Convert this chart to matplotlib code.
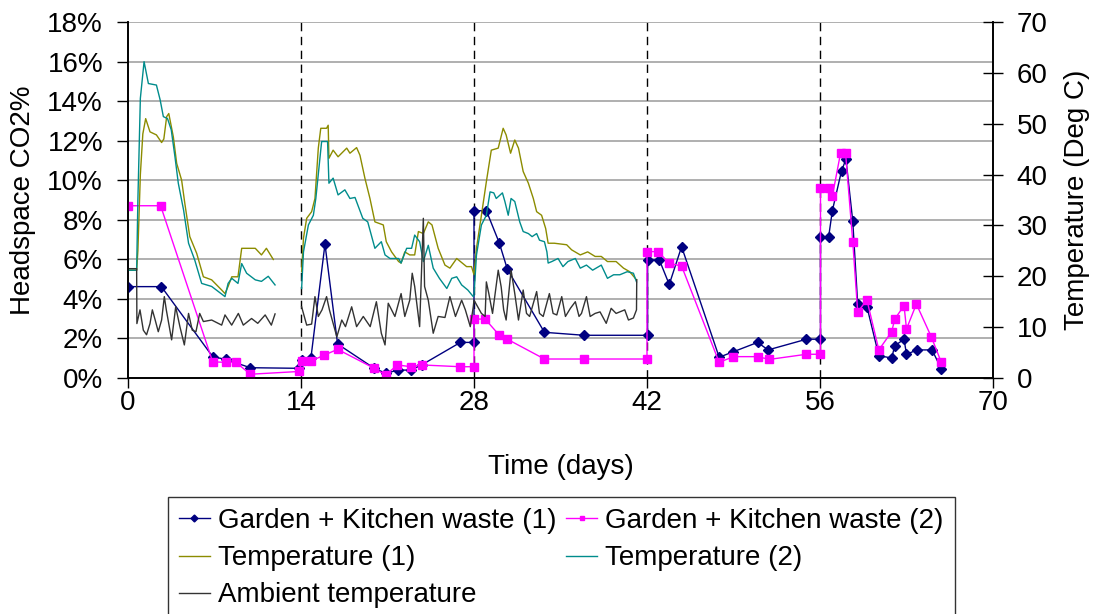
import numpy as np
import matplotlib
matplotlib.use("Agg")
import matplotlib.pyplot as plt
from matplotlib.lines import Line2D
from matplotlib.ticker import FuncFormatter, MultipleLocator

plt.rcParams['font.family'] = ['Liberation Sans', 'DejaVu Sans']

# CO2 in headspace (%)
gk1_day = [0, 2.7, 6.85, 7.9, 9.9, 13.8, 14.05, 14.8, 15.94, 16.96, 19.93, 20.85, 21.87, 22.9, 23.76,
           26.9, 28.0, 28.0, 29.0, 30.04, 30.7, 33.7, 36.9, 42.05, 42.05, 43.0, 43.8, 44.8, 47.84,
           49.0, 50.95, 51.8, 54.9, 56.04, 56.04, 56.7, 57.0, 57.74, 58.1, 58.65, 59.05, 59.8,
           60.76, 61.8, 62.05, 62.8, 63.0, 63.86, 65.07, 65.83]
gk1_co2 = [4.62, 4.62, 1.08, 0.94, 0.52, 0.49, 0.92, 1.0, 6.77, 1.72, 0.49, 0.24, 0.40, 0.40, 0.66,
           1.80, 1.80, 8.46, 8.46, 6.84, 5.50, 2.31, 2.16, 2.16, 5.97, 5.97, 4.73, 6.64, 1.05,
           1.33, 1.80, 1.42, 1.96, 1.96, 7.14, 7.14, 8.46, 10.47, 11.06, 7.94, 3.74, 3.60,
           1.13, 1.01, 1.63, 1.96, 1.20, 1.42, 1.42, 0.44]

gk2_day = [0, 2.64, 6.85, 7.9, 8.7, 9.9, 13.85, 14.05, 14.8, 15.9, 16.96, 19.93, 20.85, 21.8, 22.9,
           23.76, 26.9, 28.0, 28.0, 28.9, 30.04, 30.7, 33.7, 36.9, 42.0, 42.0, 42.9, 43.8, 44.8,
           47.84, 49.0, 50.95, 51.9, 54.9, 56.04, 56.04, 56.7, 57.0, 57.66, 58.07, 58.65, 59.05,
           59.8, 60.76, 61.8, 62.05, 62.8, 63.0, 63.8, 65.0, 65.8]
gk2_co2 = [8.71, 8.71, 0.82, 0.79, 0.81, 0.19, 0.33, 0.84, 0.86, 1.16, 1.45, 0.49, 0.15, 0.66, 0.57,
           0.66, 0.57, 0.57, 2.98, 2.98, 2.17, 1.96, 0.96, 0.96, 0.96, 6.39, 6.39, 5.80, 5.66,
           0.79, 1.08, 1.08, 0.94, 1.20, 1.20, 9.59, 9.59, 9.20, 11.36, 11.36, 6.89, 3.35,
           3.94, 1.42, 2.34, 2.98, 3.66, 2.48, 3.74, 2.09, 0.82]

# Temperatures (deg C); nan marks the logging gap
t1_day = [0, 0.7, 0.8, 1.0, 1.2, 1.43, 1.78, 2.3, 2.72, 2.9, 3.13, 3.3, 3.67, 3.94, 4.34, 4.6, 5.0,
          5.56, 6.1, 6.77, 7.58, 7.85, 8.1, 8.4, 8.9, 9.2, 9.7, 10.3, 10.8, 11.2, 11.76, 12.5,
          14.05, 14.2, 14.46, 14.86, 15.13, 15.4, 15.6, 16.07, 16.2, 16.26, 16.6, 17.0, 17.7,
          17.96, 18.5, 18.77, 19.17, 19.58, 19.98, 20.66, 20.9, 21.33, 21.9, 22.1, 22.4, 22.8,
          23.2, 23.5, 23.9, 24.3, 24.6, 25.1, 25.65, 26.05, 26.6, 26.9, 27.4, 27.8, 28.0,
          28.2, 28.6, 29.0, 29.4, 29.96, 30.36, 30.6, 30.96, 31.3, 31.6, 31.98, 32.4, 32.8,
          33.07, 33.47, 33.8, 34.0, 34.5, 35.5, 35.9, 36.6, 37.2, 37.8, 38.3, 38.8, 39.5,
          40.1, 40.6, 41.15]
t1_temp = [21.2, 21.2, 25, 40, 48, 51, 48.4, 47.8, 46.3, 47, 51.4, 52, 47.4, 42.2, 38.9, 34.3, 27.8,
           24.5, 19.9, 19.3, 17.3, 16.6, 18, 19.9, 19.9, 25.5, 25.5, 25.5, 24.2, 25.5, 23.3, np.nan,
           20.9, 27.5, 31.4, 32.7, 35.3, 45.2, 49.1, 49.1, 49.7, 43.2, 44.8, 43.5, 45.2,
           44.2, 45.3, 43.8, 39.3, 35.3, 30.7, 30.1, 26.8, 24.8, 22.9, 22.6, 24.8, 24.2,
           24.2, 28.8, 28.4, 30.7, 30.1, 25.5, 22.2, 21.6, 23.5, 22.9, 21.9, 21.9, 20.3,
           25.5, 32, 38.6, 44.8, 45.2, 49.1, 47.8, 44.2, 46.8, 45.2, 40.6, 38.3, 35.3,
           32.7, 32, 29.4, 26.5, 26.5, 26.2, 25.2, 24.2, 24.8, 23.9, 23.9, 22.9, 22.9,
           21.6, 20.9, 19.3]

t2_day = [0, 0.7, 0.8, 1.0, 1.3, 1.65, 2.3, 2.6, 2.86, 3.2, 3.5, 3.8, 4.07, 4.5, 4.9, 5.4, 5.96,
          6.77, 7.85, 8.1, 8.4, 8.9, 9.2, 9.6, 10.3, 10.8, 11.35, 11.9, 12.5,
          14.05, 14.2, 14.6, 15.0, 15.2, 15.67, 16.15, 16.26, 16.6, 17.0, 17.55, 17.96, 18.37,
          18.6, 19.0, 19.4, 19.98, 20.5, 20.8, 21.2, 21.9, 22.1, 22.55, 22.95, 23.2, 23.6,
          23.9, 24.3, 24.7, 25.2, 25.8, 26.2, 26.6, 27.0, 27.5, 27.94,
          28.0, 28.2, 28.6, 29.0, 29.3, 29.6, 29.8, 30.3, 30.5, 30.77, 31.0, 31.3, 31.7,
          31.98, 32.4, 32.7, 33.07, 33.3, 33.7, 33.9, 34.0, 34.3, 34.8, 35.2, 35.6, 36.2,
          36.6, 37.1, 37.6, 38.3, 38.8, 39.3, 39.8, 40.4, 40.9, 41.15]
t2_temp = [21.2, 21.2, 35, 55, 62.2, 57.9, 57.6, 54.7, 51.4, 51, 48.8, 43.5, 38.3, 33, 26.5, 23.2, 18.6,
           18, 16, 18.6, 19.6, 18.6, 22.5, 20.6, 19.3, 19, 20, 18.3, np.nan,
           17.6, 24.8, 30.1, 32, 35.3, 46.5, 46.5, 38.3, 39.3, 36, 37, 35.3, 35.5,
           34, 31.4, 30.7, 25.5, 26.8, 24.2, 23.5, 23.5, 22.6, 25.5, 25.5, 28.1, 26.8,
           22.9, 26.1, 21.6, 19.6, 17.6, 19.6, 19.9, 18.3, 17.3, 16,
           16.3, 24.2, 30.1, 32, 36.6, 36.4, 35.3, 36.4, 34.7, 32, 35.3, 34.7, 30.7,
           28.8, 28.4, 27.8, 28.4, 27.1, 26.8, 24.8, 22.6, 22.9, 23.5, 21.9, 22.9, 23.5,
           21.6, 22.2, 21.2, 22.2, 19.6, 20.3, 20.3, 20.9, 20.6, 18.9]

amb_day = [0, 0.7, 0.72, 0.97, 1.24, 1.5, 1.78, 1.97, 2.2, 2.45, 2.72, 2.94, 3.1, 3.53, 3.86, 4.2,
           4.56, 4.9, 5.2, 5.5, 5.8, 6.1, 6.77, 7.58, 7.85, 8.39, 8.93, 9.33, 10.0, 10.5, 11.1,
           11.6, 11.9, 12.5,
           14.05, 14.46, 14.86, 15.13, 15.4, 15.7, 16.07, 16.3, 16.9, 17.3, 17.6, 18.1, 18.5,
           19.04, 19.6, 20.1, 20.5, 20.8, 21.06, 21.6, 22.1, 22.4, 22.8, 23.0, 23.2, 23.6,
           23.9, 24.0, 24.3, 24.7, 25.1, 25.65, 26.05, 26.5, 27.0, 27.3, 27.7, 27.94,
           28.0, 28.3, 28.6, 28.9, 29.0, 29.2, 29.5, 29.96, 30.2, 30.4, 30.6, 31.0, 31.3,
           31.6, 31.98, 32.25, 32.5, 33.07, 33.3, 33.6, 34.1, 34.4, 34.7, 35.1, 35.4, 35.8,
           36.2, 36.5, 36.7, 37.1, 37.4, 37.8, 38.2, 38.7, 39.1, 39.5, 40.2, 40.5, 40.9,
           41.15, 41.17]
amb_temp = [21.5, 21.5, 10.7, 13.4, 9.4, 8.5, 10.7, 13.4, 11.4, 9.1, 11.4, 16, 13.4, 7.5, 14, 10.1,
            6.5, 12.7, 9.4, 9.1, 12.7, 11.1, 11.4, 10.4, 12.4, 10.4, 12.7, 10.4, 11.7, 10.75, 12.4,
            10.4, 12.6, np.nan,
            14.0, 10.4, 10.6, 16, 12.1, 13.4, 16, 13.4, 8.1, 11.4, 10.1, 14, 10.1,
            12.1, 10.1, 15, 8.8, 6.5, 14.7, 12.1, 16.6, 12.1, 15.3, 20.6, 18, 10.1,
            31.4, 18, 15.3, 8.8, 12.1, 11.9, 16, 12.1, 15.3, 13.4, 10.1, 14,
            15.3, 14, 12.7, 12.1, 18.9, 16.6, 12.7, 21.2, 17.9, 13.4, 11.4, 21.2, 16.6,
            11.4, 17.3, 12.7, 12.1, 17.0, 12.7, 12.1, 16.6, 12.7, 12.4, 16, 12.1, 13.7,
            15, 12.1, 12.7, 16, 12.1, 12.7, 13, 10.75, 13.7, 12.7, 13.4, 11.4, 11.8,
            13.4, 19.3]

phase_days = [14, 28, 42, 56]

navy = '#000080'
pink = '#FF00FF'
olive = '#8C8C00'
teal = '#008C8C'
amb_col = '#333333'

fig = plt.figure(figsize=(10.98, 6.14), dpi=100)
ax = fig.add_axes([128 / 1098, 1 - 378 / 614, 865 / 1098, 356 / 614])
ax2 = ax.twinx()

# gridlines every 2 %
ax.set_ylim(0, 18)
ax.set_xlim(0, 70)
for g in range(2, 19, 2):
    ax.axhline(g, color='#9A9A9A', lw=1.1, zorder=0)
for d in phase_days:
    ax.axvline(d, color='black', lw=1, ls=(0, (6, 4)), zorder=1)

ax.plot(gk1_day, gk1_co2, color=navy, lw=1, marker='D', ms=5.5, zorder=3)
ax.plot(gk2_day, gk2_co2, color=pink, lw=1, marker='s', ms=6, zorder=3)

ax2.plot(t1_day, t1_temp, color=olive, lw=1)
ax2.plot(t2_day, t2_temp, color=teal, lw=1)
ax2.plot(amb_day, amb_temp, color=amb_col, lw=1)
ax2.set_ylim(0, 70)

ax.xaxis.set_major_locator(MultipleLocator(14))
ax.yaxis.set_major_locator(MultipleLocator(2))
ax.yaxis.set_major_formatter(FuncFormatter(lambda v, p: f'{v:.0f}%'))
ax2.yaxis.set_major_locator(MultipleLocator(10))

ax.tick_params(axis='x', direction='out', length=7, width=1, labelsize=20, pad=2)
ax.tick_params(axis='y', direction='out', length=8, width=1, labelsize=20, pad=10)
ax2.tick_params(axis='y', direction='inout', length=14, width=1, labelsize=20, pad=10)

for a in (ax, ax2):
    a.spines['top'].set_visible(False)
    for s in ('left', 'right', 'bottom'):
        a.spines[s].set_linewidth(1.2)

ax.set_xlabel('Time (days)', fontsize=20, labelpad=27)
ax.set_ylabel('Headspace CO2%', fontsize=20, labelpad=8)
ax2.set_ylabel('Temperature (Deg C)', fontsize=20, labelpad=12)

handles = [
    Line2D([], [], color=navy, lw=1, marker='D', ms=3.5),
    Line2D([], [], color=olive, lw=1),
    Line2D([], [], color=amb_col, lw=1),
    Line2D([], [], color=pink, lw=1, marker='s', ms=3.5),
    Line2D([], [], color=teal, lw=1),
]
labels = ['Garden + Kitchen waste (1)', 'Temperature (1)', 'Ambient temperature',
          'Garden + Kitchen waste (2)', 'Temperature (2)']
leg = fig.legend(handles, labels, loc='upper left', bbox_to_anchor=(168 / 1098, 1 - 497 / 614),
                 ncol=2, fontsize=20, frameon=True, fancybox=False, edgecolor='black',
                 handlelength=1.1, handletextpad=0.3, columnspacing=0.35, labelspacing=0.4,
                 borderpad=0.4, borderaxespad=0)
leg.get_frame().set_linewidth(1)

fig.savefig('out.png', dpi=100)
